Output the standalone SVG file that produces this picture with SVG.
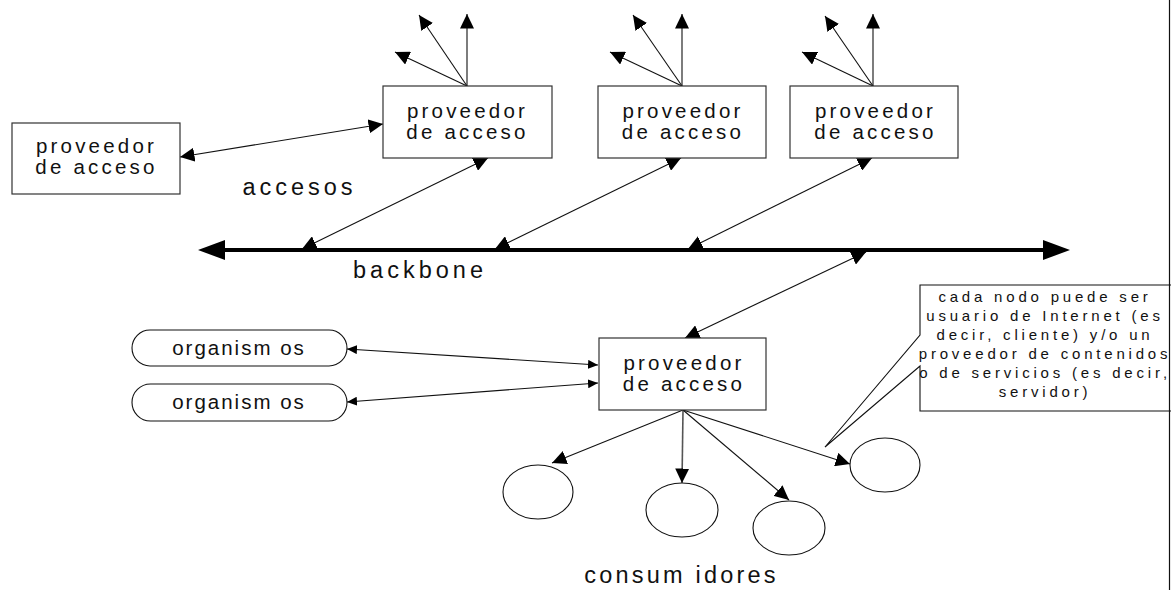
<svg xmlns="http://www.w3.org/2000/svg" width="1171" height="590" viewBox="0 0 1171 590">
<style>
.box{fill:#fff;stroke:#333;stroke-width:1.2}
.ell{fill:#fff;stroke:#111;stroke-width:1.1}
.t{font-family:"Liberation Sans",Arial,sans-serif;fill:#111;text-anchor:middle}
.bt{font-size:20.5px;letter-spacing:3.2px}
.lb{font-size:23.5px;letter-spacing:4px}
.og{font-size:20.5px;letter-spacing:2px}
.ct{font-size:15px;letter-spacing:3.8px}
.c{fill:none;stroke:#111;stroke-width:1.1}
.cb{marker-start:url(#a);marker-end:url(#a)}
.ce{marker-end:url(#a)}
.cs{marker-start:url(#s);marker-end:url(#s)}
</style>
<defs>
<marker id="a" markerUnits="userSpaceOnUse" markerWidth="15" markerHeight="14" refX="14.5" refY="7" orient="auto-start-reverse" viewBox="0 0 15 14"><path d="M0,0 L14.5,7 L0,14 z" fill="#000"/></marker>
<marker id="s" markerUnits="userSpaceOnUse" markerWidth="11" markerHeight="9" refX="10" refY="4.5" orient="auto-start-reverse" viewBox="0 0 11 9"><path d="M0,0 L10,4.5 L0,9 z" fill="#000"/></marker>
</defs>
<rect width="1171" height="590" fill="#fff"/>
<g id="connectors">
<line class="c cb" x1="180" y1="157" x2="383" y2="124"/>
<line class="c ce" x1="467" y1="86" x2="467" y2="14"/>
<line class="c ce" x1="467" y1="86" x2="419" y2="15"/>
<line class="c ce" x1="467" y1="86" x2="395" y2="52"/>
<line class="c ce" x1="682" y1="86" x2="682" y2="14"/>
<line class="c ce" x1="682" y1="86" x2="633" y2="15"/>
<line class="c ce" x1="682" y1="86" x2="610" y2="52"/>
<line class="c ce" x1="873" y1="86" x2="873" y2="14"/>
<line class="c ce" x1="873" y1="86" x2="825" y2="16"/>
<line class="c ce" x1="873" y1="86" x2="802" y2="52"/>
<line class="c cb" x1="302" y1="249" x2="488" y2="158"/>
<line class="c cb" x1="495" y1="249" x2="681" y2="158"/>
<line class="c cb" x1="688" y1="249" x2="872" y2="158"/>
<line class="c cb" x1="866" y1="252" x2="685" y2="338"/>
<line class="c cs" x1="347" y1="349" x2="598" y2="365"/>
<line class="c cs" x1="347" y1="402" x2="598" y2="383"/>
<line class="c ce" x1="683" y1="410" x2="552" y2="463"/>
<line class="c ce" x1="683" y1="410" x2="682" y2="483" style="stroke:#555;stroke-width:1.6"/>
<line class="c ce" x1="683" y1="410" x2="789" y2="500"/>
<line class="c ce" x1="683" y1="410" x2="850" y2="464"/>
</g>
<g id="backbone">
<line x1="222" y1="250" x2="1046" y2="250" stroke="#000" stroke-width="4.2"/>
<polygon points="198,250 225,240 225,260" fill="#000"/>
<polygon points="1070,250 1043,240 1043,260" fill="#000"/>
<text class="t lb" x="420" y="278">backbone</text>
</g>
<g id="node-left">
<rect class="box" x="12" y="123" width="168" height="71"/>
<text class="t bt" x="96.5" y="153">proveedor</text>
<text class="t bt" x="96.5" y="174">de acceso</text>
</g>
<g id="node-top1">
<rect class="box" x="383" y="86" width="169" height="72"/>
<text class="t bt" x="467.5" y="118">proveedor</text>
<text class="t bt" x="467.5" y="139">de acceso</text>
</g>
<g id="node-top2">
<rect class="box" x="598" y="86" width="168" height="72"/>
<text class="t bt" x="683" y="118">proveedor</text>
<text class="t bt" x="683" y="139">de acceso</text>
</g>
<g id="node-top3">
<rect class="box" x="790" y="86" width="168" height="72"/>
<text class="t bt" x="875.5" y="118">proveedor</text>
<text class="t bt" x="875.5" y="139">de acceso</text>
</g>
<g id="label-accesos">
<text class="t lb" x="299.5" y="195">accesos</text>
</g>
<g id="node-center">
<rect class="box" x="599" y="338" width="167" height="72"/>
<text class="t bt" x="684" y="370">proveedor</text>
<text class="t bt" x="684" y="391">de acceso</text>
</g>
<g id="org1">
<rect class="ell" x="132" y="330" width="215" height="36" rx="18" ry="18"/>
<text class="t og" x="239" y="355">organism os</text>
</g>
<g id="org2">
<rect class="ell" x="132" y="384" width="215" height="37" rx="18.5" ry="18.5"/>
<text class="t og" x="239" y="409">organism os</text>
</g>
<g id="cons1"><ellipse class="ell" cx="538" cy="492" rx="35" ry="27"/></g>
<g id="cons2"><ellipse class="ell" cx="682" cy="510" rx="36" ry="27"/></g>
<g id="cons3"><ellipse class="ell" cx="789" cy="528" rx="36" ry="27"/></g>
<g id="cons4"><ellipse class="ell" cx="885" cy="465" rx="35" ry="27"/></g>
<g id="label-consumidores">
<text class="t lb" x="681.5" y="583" style="letter-spacing:3.2px">consum idores</text>
</g>
<g id="callout">
<polygon points="920,285 1180,285 1180,411 920,411 920,366 825,447 920,335" fill="#fff" stroke="#111" stroke-width="1.1"/>
<text class="t ct" x="1045" y="302">cada nodo puede ser</text>
<text class="t ct" x="1045" y="321">usuario de Internet (es</text>
<text class="t ct" x="1045" y="340">decir, cliente) y/o un</text>
<text class="t ct" x="1045" y="359">proveedor de contenidos</text>
<text class="t ct" x="1045" y="378">o de servicios (es decir,</text>
<text class="t ct" x="1045" y="397">servidor)</text>
</g>
<line x1="1169.5" y1="0" x2="1169.5" y2="590" stroke="#111" stroke-width="1.2"/>
</svg>
